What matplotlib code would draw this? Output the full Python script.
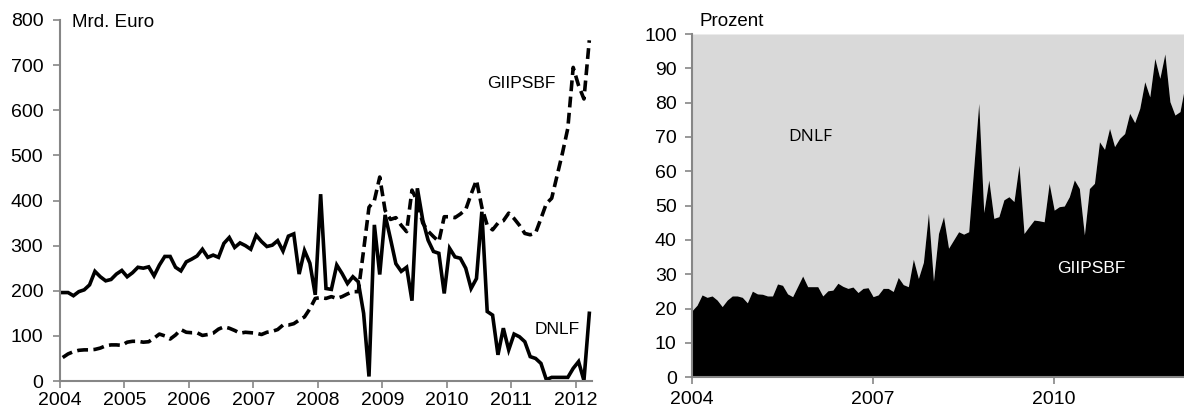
import numpy as np
import matplotlib
matplotlib.use('Agg')
import matplotlib.pyplot as plt

plt.rcParams['font.family'] = ['Liberation Sans', 'DejaVu Sans']

# monthly values Jan 2004 - Mar 2012
years = ['2004', '2005', '2006', '2007', '2008', '2009', '2010', '2011', '2012']
years_right = ['2004', '2007', '2010']

# Mrd. Euro
dnlf = [196, 196, 189, 198, 202, 213, 243, 231, 222, 225, 237, 245,
        231, 240, 252, 250, 253, 233, 257, 276, 276, 252, 244, 264,
        270, 277, 292, 274, 279, 274, 305, 318, 296, 306, 300, 292,
        323, 309, 298, 301, 311, 288, 321, 326, 237, 289, 261, 191,
        414, 205, 203, 257, 238, 216, 231, 220, 150, 10, 346, 236,
        368, 315, 260, 243, 252, 178, 427, 357, 312, 287, 283, 194,
        294, 275, 272, 250, 205, 227, 375, 154, 146, 58, 117, 69,
        104, 98, 87, 54, 50, 39, 3, 8, 8, 8, 8, 28,
        43, 1, 150]
giipsbf = [52, 60, 65, 68, 69, 69, 70, 73, 78, 80, 80, 79,
           86, 88, 88, 86, 87, 95, 104, 100, 93, 102, 114, 108,
           107, 107, 101, 103, 106, 115, 120, 117, 112, 106, 108, 107,
           106, 103, 108, 110, 114, 124, 124, 127, 135, 142, 160, 183,
           185, 183, 187, 183, 187, 193, 198, 198, 290, 385, 400, 452,
           378, 358, 362, 345, 331, 423, 398, 350, 332, 320, 309, 364,
           364, 362, 370, 380, 414, 445, 385, 345, 335, 350, 355, 372,
           360, 345, 327, 324, 328, 360, 393, 405, 455, 505, 560, 695,
           655, 625, 755]

# Prozent (GIIPSBF share)
share = [19.4, 21, 24, 23.3, 23.7, 22.5, 20.6, 22.5, 23.7, 23.7, 23.3, 21.7,
         25.1, 24.3, 24.2, 23.7, 23.7, 27.2, 26.8, 24.3, 23.5, 26.5, 29.5, 26.4,
         26.4, 26.4, 23.7, 25.2, 25.4, 27.4, 26.5, 25.9, 26.3, 24.7, 25.9, 26.1,
         23.5, 24, 25.9, 25.9, 25, 29.1, 27, 26.4, 34.4, 28.8, 33.5, 47.8,
         28, 41.9, 46.8, 37.6, 40, 42.4, 41.7, 42.4, 61, 79.8, 48, 57.5,
         46.3, 46.8, 51.7, 52.6, 51.2, 61.8, 41.9, 43.9, 45.8, 45.6, 45.3, 56.5,
         48.7, 49.7, 49.9, 52.6, 57.5, 55, 41.5, 55, 56.5, 68.6, 66.4, 72.5,
         67.2, 69.6, 71, 76.9, 74.2, 78.3, 86.1, 81.7, 92.9, 87.1, 94.2, 80.3,
         76.4, 77.4, 85.1]

n = len(dnlf)
x = np.arange(n)
grey = '#868686'

fig = plt.figure(figsize=(11.84, 4.12), dpi=100)

def style_axis(ax, ypad, xpad):
    for s in ['top', 'right']:
        ax.spines[s].set_visible(False)
    for s in ['left', 'bottom']:
        ax.spines[s].set_color(grey)
        ax.spines[s].set_linewidth(1.5)
    ax.tick_params(direction='out', length=5, width=1.2, color=grey,
                   labelsize=14, labelcolor='black')
    ax.tick_params(axis='y', pad=ypad)
    ax.tick_params(axis='x', pad=xpad)

# left panel: levels
ax1 = fig.add_axes([60 / 1184, 1 - 381 / 412, 532 / 1184, 361 / 412])
ax1.plot(x + 0.5, dnlf, color='black', lw=2.6, solid_joinstyle='miter')
ax1.plot(x + 0.5, giipsbf, color='black', lw=2.6, dashes=(3, 1.5))
ax1.set_xlim(0, n)
ax1.set_ylim(0, 800)
ax1.set_yticks(range(0, 801, 100))
ax1.set_xticks(range(0, 97, 12))
ax1.set_xticklabels(years)
style_axis(ax1, 7, 3)
ax1.text(0.023, 0.994, 'Mrd. Euro', transform=ax1.transAxes, fontsize=13.5,
         va='center', ha='left')
ax1.text(79.4, 660, 'GIIPSBF', fontsize=12.5, va='center', ha='left')
ax1.text(88.4, 115, 'DNLF', fontsize=12.5, va='center', ha='left')

# right panel: shares
ax2 = fig.add_axes([692 / 1184, 1 - 377.3 / 412, 493 / 1184, 343.3 / 412])
ax2.fill_between(x, share, 100, color='#d9d9d9', lw=0)
ax2.fill_between(x, 0, share, color='black', lw=0)
ax2.set_xlim(0, n - 1)
ax2.set_ylim(0, 100)
ax2.set_yticks(range(0, 101, 10))
ax2.set_xticks([0, 36, 72])
ax2.set_xticklabels(years_right)
style_axis(ax2, 6, 5)
ax2.text(1.4, 103.6, 'Prozent', fontsize=13.5, va='center', ha='left', clip_on=False)
ax2.text(19.1, 70, 'DNLF', fontsize=12.5, va='center', ha='left',
         family=['Open Sans', 'DejaVu Sans'])
ax2.text(72.6, 31.8, 'GIIPSBF', fontsize=12.5, va='center', ha='left', color='white')

fig.savefig('out.png', dpi=100)
